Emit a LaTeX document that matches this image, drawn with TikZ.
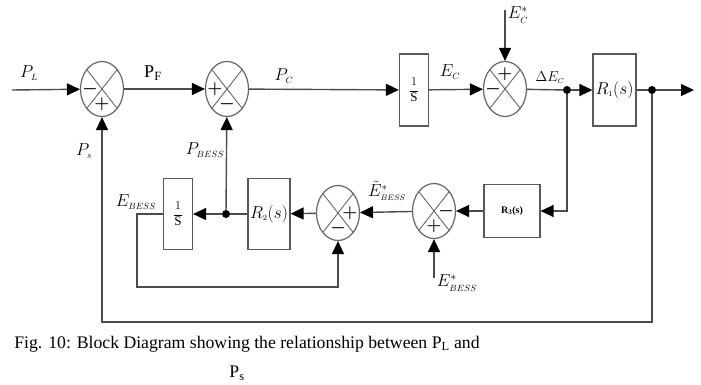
\documentclass[tikz,border=0pt]{standalone}
\usepackage{fontspec}
\setmainfont{Liberation Serif}
\usetikzlibrary{arrows.meta,shapes.geometric,calc}

\tikzset{
  wire/.style={draw=black!70, line width=1.4pt},
  sumnode/.style={ellipse, draw=black!60, line width=1.2pt, minimum width=43pt, minimum height=55pt, inner sep=0pt,
    path picture={
      \draw[black!60, line width=0.9pt] (path picture bounding box.north west) -- (path picture bounding box.south east);
      \draw[black!60, line width=0.9pt] (path picture bounding box.north east) -- (path picture bounding box.south west);}},
  blk/.style={draw=black!65, line width=1.2pt, fill=white, inner sep=1pt},
  junc/.style={circle, fill=black, inner sep=0pt, minimum size=8pt},
  sgn/.style={font=\boldmath\fontsize{19}{19}\selectfont, inner sep=0pt},
  lab/.style={font=\fontsize{18}{20}\selectfont, inner sep=0pt}
}

\begin{document}
\begin{tikzpicture}[x=1pt, y=-1pt, >={Triangle[length=13pt,width=12pt,color=black]}]

\useasboundingbox (0,0) rectangle (701,385);

% upper path
\coordinate (in) at (12,90);
\node[sumnode] (s1) at (102,89) {};
\node[sumnode] (s2) at (227,89) {};
\node[blk, minimum width=29pt, minimum height=72pt] (int1) at (414,90) {\fontsize{13}{15}\selectfont$\displaystyle\frac{1}{\mathrm{S}}$};
\node[sumnode] (s3) at (505,89) {};
\coordinate (ecref) at (505,10);
\node[junc] (j1) at (567,90) {};
\node[blk, minimum width=43pt, minimum height=72pt] (r1) at (614.5,90) {\fontsize{17}{19}\selectfont$R_{\scriptscriptstyle 1}(s)$};
\node[junc] (j2) at (652,90) {};
\coordinate (out) at (694,90);
\coordinate (fbr) at (652,322);

% lower path
\node[blk, minimum width=56pt, minimum height=53pt] (k3) at (512,211) {\bfseries\fontsize{10}{11}\selectfont R\textsubscript{3}(s)};
\node[sumnode] (s4) at (434,211) {};
\coordinate (eref) at (434,278);
\node[sumnode] (s5) at (338,213) {};
\node[blk, minimum width=42pt, minimum height=71pt] (r2) at (269,214) {\fontsize{17}{19}\selectfont$R_{\scriptscriptstyle 2}(s)$};
\node[junc] (j3) at (226,214) {};
\node[blk, minimum width=29pt, minimum height=71pt] (int2) at (178,214) {\fontsize{13}{15}\selectfont$\displaystyle\frac{1}{\mathrm{S}}$};
\coordinate (lp1) at (137,214);
\coordinate (lp2) at (137,287);

% signs
\node[sgn] at ([xshift=-12pt]s1.center) {$-$};
\node[sgn] at ([yshift=-15pt]s1.center) {$+$};
\node[sgn] at ([xshift=-12pt]s2.center) {$+$};
\node[sgn] at ([yshift=-15pt]s2.center) {$-$};
\node[sgn] at ([yshift=15pt]s3.center) {$+$};
\node[sgn] at ([xshift=-12pt]s3.center) {$-$};
\node[sgn] at ([xshift=12pt]s4.center) {$-$};
\node[sgn] at ([yshift=-15pt]s4.center) {$+$};
\node[sgn] at ([xshift=12pt]s5.center) {$+$};
\node[sgn] at ([yshift=-15pt]s5.center) {$-$};

% connectors
\draw[wire, ->] (in) -- (s1);
\draw[wire, ->] (s1) -- (s2);
\draw[wire, ->] (s2) -- (int1);
\draw[wire, ->] (int1) -- (s3);
\draw[wire, ->] (ecref) -- (s3);
\draw[wire] (s3) -- (j1);
\draw[wire, ->] (j1) -- (r1);
\draw[wire] (r1) -- (j2);
\draw[wire, ->] (j2) -- (out);
\draw[wire, ->] (j2) -- (fbr) -| (s1);
\draw[wire, ->] (j1) |- (k3);
\draw[wire, ->] (k3) -- (s4);
\draw[wire, ->] (eref) -- (s4);
\draw[wire, ->] (s4) -- (s5);
\draw[wire, ->] (s5) -- (r2);
\draw[wire] (r2) -- (j3);
\draw[wire, ->] (j3) -- (int2);
\draw[wire, ->] (j3) -- (s2);
\draw[wire, ->] (int2) -- (lp1) -- (lp2) -| (s5);

% labels
\node[lab] (lpl) at (29,73) {$P_{\scriptscriptstyle L}$};
\node[lab] (lpf) at (153,73) {P\textsubscript{F}};
\node[lab] (lpc) at (284,76) {$P_{\scriptscriptstyle C}$};
\node[lab] (lec) at (450,72) {$E_{\scriptscriptstyle C}$};
\node[lab] (lecs) at (518,15) {$E^{*}_{\scriptscriptstyle C}$};
\node[lab] (ldec) at (550,78) {\fontsize{14}{16}\selectfont$\Delta E_{\scriptscriptstyle C}$};
\node[lab] (lps) at (84,151) {$P_{\scriptscriptstyle s}$};
\node[lab] (lpb) at (205,150) {$P_{\scriptscriptstyle BESS}$};
\node[lab] (leb) at (136,202) {$E_{\scriptscriptstyle BESS}$};
\node[lab, font=\fontsize{16}{18}\selectfont] (lebt) at (387,191) {$\tilde{E}^{*}_{\scriptscriptstyle BESS}$};
\node[lab] (lebs) at (457,283) {$E^{*}_{\scriptscriptstyle BESS}$};

% caption
\node[font=\fontsize{17.7}{20}\selectfont, inner sep=0pt] (cap1) at (247,344) {Fig. 10: Block Diagram showing the relationship between P\textsubscript{L} and};
\node[font=\fontsize{17.7}{20}\selectfont, inner sep=0pt] (cap2) at (237,373) {P\textsubscript{s}};

\end{tikzpicture}
\end{document}
